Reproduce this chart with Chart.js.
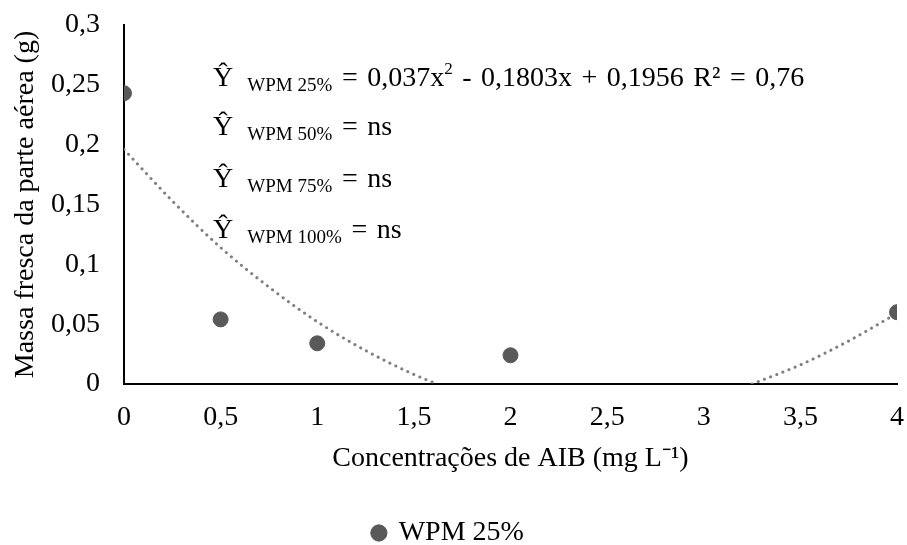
<!DOCTYPE html>
<html><head><meta charset="utf-8">
<script src="https://cdn.jsdelivr.net/npm/chart.js@4"></script>
<style>html,body{margin:0;padding:0;background:#fff}#wrap{width:907px;height:545px}</style>
</head><body><div id="wrap"><canvas id="c"></canvas></div>
<script>
const concentrations = [0, 0.5, 1, 2, 4];
const wpm25 = [0.243, 0.054, 0.034, 0.024, 0.060];
const trendX = [0, 0.25, 0.5, 0.75, 1, 1.25, 1.5, 1.62, 2.4, 3.25, 3.5, 3.75, 4];
const trendY = [0.196, 0.153, 0.114, 0.081, 0.052, 0.028, 0.008, 0.0, null, 0.0, 0.016, 0.036, 0.059];
const yTicks = [0, 0.05, 0.1, 0.15, 0.2, 0.25, 0.3];
const xTicks = [0, 0.5, 1, 1.5, 2, 2.5, 3, 3.5, 4];
const seriesName = 'WPM 25%';
const eqLines = [
  [['Ŷ','m'],[' WPM 25%','sub'],[' = 0,037x','m'],['2','sup'],[' - 0,1803x + 0,1956 R² = 0,76','m']],
  [['Ŷ','m'],[' WPM 50%','sub'],[' = ns','m']],
  [['Ŷ','m'],[' WPM 75%','sub'],[' = ns','m']],
  [['Ŷ','m'],[' WPM 100%','sub'],[' = ns','m']]
];

const SERIF = '"Liberation Serif", "Times New Roman", serif';
const FS = 28;
const fmt = v => String(+v.toFixed(2)).replace('.', ',');

const eqPlugin = {
  id: 'eq',
  afterDatasetsDraw(chart) {
    const ctx = chart.ctx;
    const baselines = [86, 135, 187, 238];
    ctx.save();
    ctx.fillStyle = '#000';
    ctx.textBaseline = 'alphabetic';
    eqLines.forEach((parts, i) => {
      let x = 213;
      const b = baselines[i];
      parts.forEach(([t, k]) => {
        let size = 28, dy = 0;
        if (k === 'sub') { size = 19; dy = 5; }
        if (k === 'sup') { size = 17; dy = -12; }
        const words = t.split(' ');
        words.forEach((w, j) => {
          if (j > 0) x += (k === 'sub') ? (j === 1 ? 14 : 5) : 9.5;
          ctx.font = size + 'px ' + SERIF;
          if (w) { ctx.fillText(w, x, b + dy); x += ctx.measureText(w).width; }
        });
      });
    });
    ctx.restore();
  }
};

new Chart(document.getElementById('c'), {
  type: 'scatter',
  data: {
    datasets: [
      {
        label: seriesName,
        data: concentrations.map((x, i) => ({x, y: wpm25[i]})),
        backgroundColor: '#595959',
        borderColor: '#595959',
        pointRadius: 7.5,
        pointHoverRadius: 7.5,
        order: 1
      },
      {
        label: 'trend',
        type: 'line',
        data: trendX.map((x, i) => ({x, y: trendY[i]})),
        borderColor: '#7f7f7f',
        borderWidth: 3,
        borderDash: [0.1, 6.5],
        borderCapStyle: 'round',
        pointRadius: 0,
        tension: 0.4,
        cubicInterpolationMode: 'monotone',
        spanGaps: false,
        fill: false,
        order: 2
      }
    ]
  },
  options: {
    responsive: true,
    maintainAspectRatio: false,
    animation: false,
    layout: { padding: { top: 25, right: 10, left: 0, bottom: -12 } },
    plugins: {
      tooltip: { enabled: false },
      legend: {
        position: 'bottom',
        labels: {
          filter: item => item.text !== 'trend',
          usePointStyle: true,
          pointStyle: 'circle',
          boxWidth: 11.5, boxHeight: 11.5,
          color: '#000',
          font: { family: SERIF, size: FS, lineHeight: 1 },
          padding: 0
        }
      }
    },
    scales: {
      x: {
        type: 'linear', min: 0, max: 4,
        afterBuildTicks: s => { s.ticks = xTicks.map(v => ({value: v})); },
        afterFit: s => { s.height = 135; },
        grid: { display: false, drawTicks: true, tickLength: 8, tickColor: '#000', tickWidth: 2 },
        border: { color: '#000', width: 2 },
        ticks: { color: '#000', font: { family: SERIF, size: FS, lineHeight: 1.86 }, callback: v => fmt(v), padding: 0, maxRotation: 0 },
        title: { display: true, text: 'Concentrações de AIB (mg L⁻¹)', color: '#000', font: { family: SERIF, size: FS }, padding: { top: 0, bottom: 44 } }
      },
      y: {
        type: 'linear', min: 0, max: 0.3,
        afterBuildTicks: s => { s.ticks = yTicks.map(v => ({value: v})); },
        afterFit: s => { s.width = 124; },
        grid: { display: false, drawTicks: true, tickLength: 8, tickColor: '#000', tickWidth: 2 },
        border: { color: '#000', width: 2 },
        ticks: { color: '#000', font: { family: SERIF, size: FS, lineHeight: 0.5 }, callback: v => fmt(v), padding: 16 },
        title: { display: true, text: 'Massa fresca da parte aérea (g)', color: '#000', font: { family: SERIF, size: FS }, padding: { top: 9, bottom: 0 } }
      }
    }
  },
  plugins: [eqPlugin]
});
</script></body></html>
